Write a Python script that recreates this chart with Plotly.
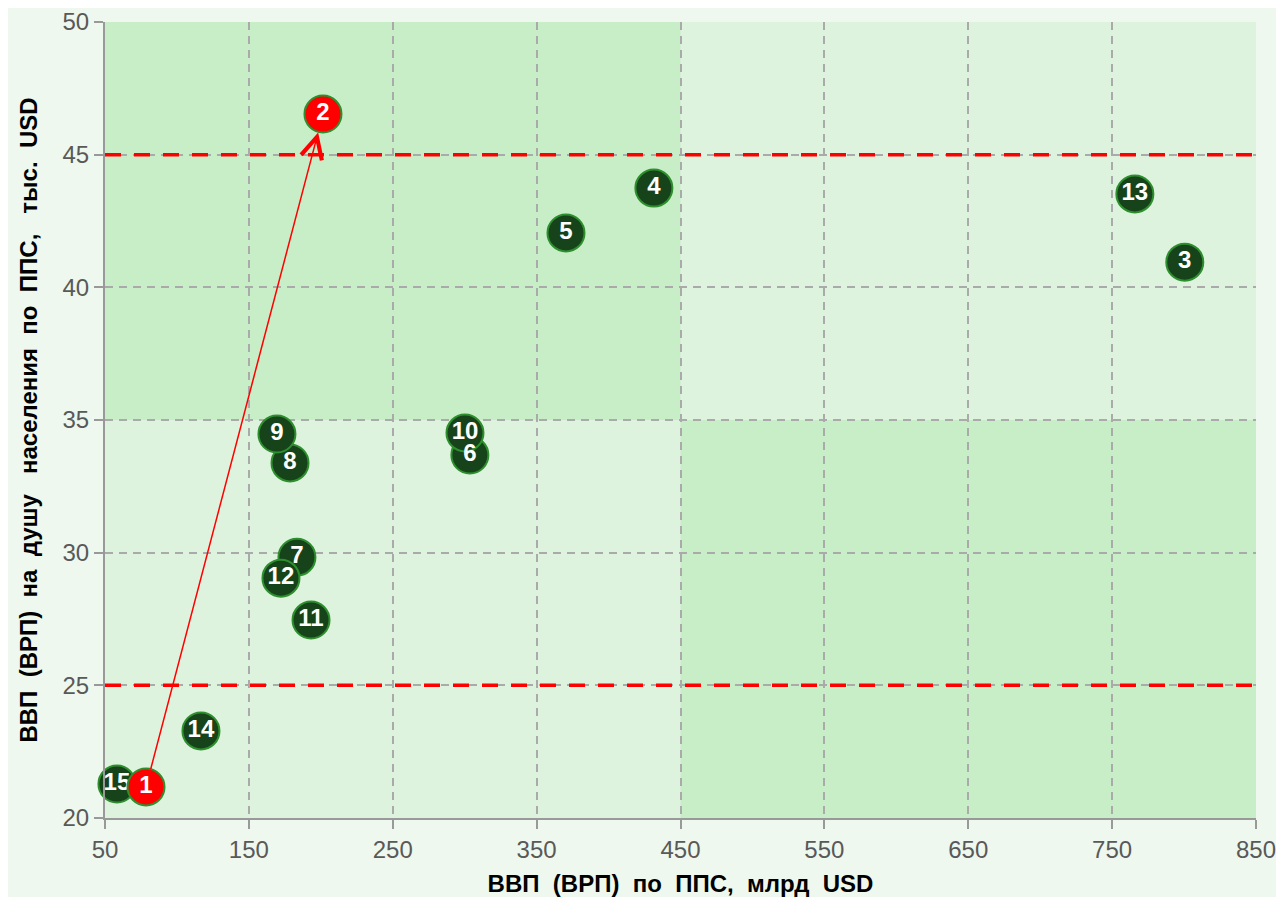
import plotly.graph_objects as go

# Region points: label, GDP (PPP, bn USD), GDP per capita (PPP, k USD)
labels = ['1', '2', '3', '4', '5', '6', '7', '8', '9', '10', '11', '12', '13', '14', '15']
gdp = [78.5, 201.5, 800.5, 431.5, 370.4, 303.6, 183.4, 178.6, 169.5, 300.2, 193.2, 172.3, 765.8, 116.7, 58.3]
gdp_per_capita = [21.17, 46.53, 40.95, 43.74, 42.05, 33.68, 29.83, 33.38, 34.47, 34.51, 27.46, 29.04, 43.52, 23.28, 21.28]
highlighted = ['1', '2']

# Threshold lines and shaded quadrants
thresholds = [25, 45]
zones = [(50, 450, 35, 50), (450, 850, 20, 35)]

x_ticks = [50, 150, 250, 350, 450, 550, 650, 750, 850]
y_ticks = [20, 25, 30, 35, 40, 45, 50]

green_idx = [i for i, l in enumerate(labels) if l not in highlighted]
red_idx = [i for i, l in enumerate(labels) if l in highlighted]

font_family = 'Liberation Sans, Arial'

fig = go.Figure()


def add_points(idx, fill):
    fig.add_trace(go.Scatter(
        x=[gdp[i] for i in idx],
        y=[gdp_per_capita[i] for i in idx],
        text=[labels[i] for i in idx],
        mode='markers+text',
        textposition='middle center',
        textfont=dict(color='white', size=24, family=font_family, weight='bold'),
        marker=dict(size=37, color=fill, line=dict(color='#2e8f2e', width=2)),
        cliponaxis=False,
        showlegend=False,
    ))


add_points(green_idx, '#17431a')
add_points(red_idx, '#ff0000')

for x0, x1, y0, y1 in zones:
    fig.add_shape(type='rect', x0=x0, x1=x1, y0=y0, y1=y1, xref='x', yref='y',
                  fillcolor='#c8eec8', line=dict(width=0), layer='below')

for t in thresholds:
    fig.add_shape(type='line', x0=50, x1=850, y0=t, y1=t, xref='x', yref='y',
                  line=dict(color='#ff0000', width=3.5, dash='16px,13px'))

# Arrow from point 1 to point 2
a, b = labels.index('1'), labels.index('2')
fig.add_annotation(
    x=gdp[b], y=gdp_per_capita[b], ax=gdp[a], ay=gdp_per_capita[a],
    xref='x', yref='y', axref='x', ayref='y',
    showarrow=True, arrowhead=5, arrowsize=2.8, arrowwidth=1.5, arrowcolor='#ff0000',
    standoff=19, startstandoff=17, text='',
)

axis_common = dict(
    showgrid=True, gridcolor='#aaaaaa', griddash='8px,6px', gridwidth=2,
    showline=True, linecolor='#999999', linewidth=2,
    ticks='outside', ticklen=9, tickcolor='#999999', tickwidth=2,
    tickfont=dict(size=24, color='#595959', family=font_family),
    ticklabeloverflow='allow',
    zeroline=False, automargin=False,
)

title_font = dict(size=24, color='black', family=font_family, weight='bold')

# page body adds an 8px margin, so the figure is sized/offset to match
fig.update_layout(
    width=1268, height=889,
    paper_bgcolor='#eef8ee',
    plot_bgcolor='#ddf3dd',
    margin=dict(l=97, r=20, t=14, b=79),
    xaxis=dict(
        range=[50, 850], tickvals=x_ticks,
        title=dict(text='ВВП  (ВРП)  по  ППС,  млрд  USD', standoff=18, font=title_font),
        **axis_common,
    ),
    yaxis=dict(
        range=[20, 50], tickvals=y_ticks,
        title=dict(text='ВВП  (ВРП)  на  душу   населения  по  ППС,   тыс.  USD', standoff=18,
                   font=title_font),
        **axis_common,
    ),
)

fig.write_html('out.html')
